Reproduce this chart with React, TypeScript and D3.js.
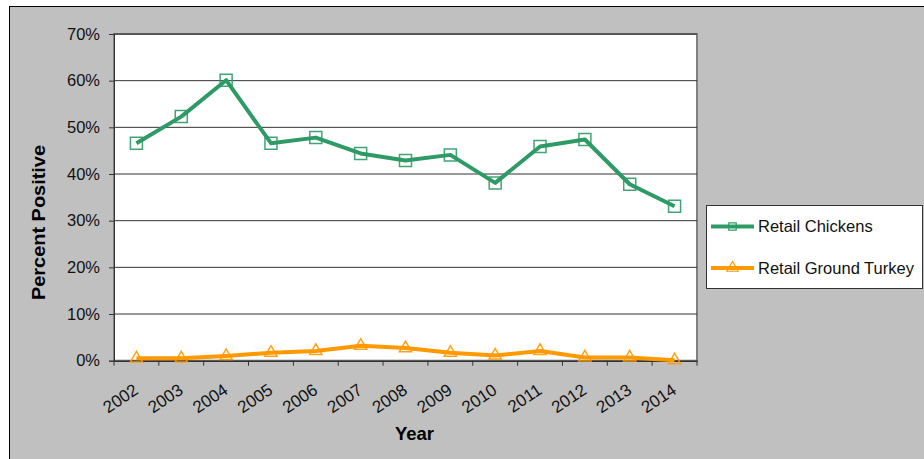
import { useEffect, useRef } from "react";
import * as d3 from "d3";

const years = ["2002", "2003", "2004", "2005", "2006", "2007", "2008", "2009", "2010", "2011", "2012", "2013", "2014"];
const chickens = [46.6, 52.3, 60.1, 46.6, 47.8, 44.4, 42.9, 44.1, 38.1, 45.9, 47.4, 37.8, 33.1];
const turkey = [0.5, 0.5, 1.0, 1.7, 2.1, 3.2, 2.7, 1.7, 1.1, 2.1, 0.7, 0.7, 0.1];
const yTicks = [0, 10, 20, 30, 40, 50, 60, 70];

const green = "#2e9a66";
const orange = "#ff9900";
const font = "'Liberation Sans', Arial, sans-serif";

export default function App() {
  const width = 924;
  const height = 459;
  const marginLeft = 114;
  const marginRight = 697;
  const marginTop = 34;
  const marginBottom = 360.7;

  const chart = useRef(null);

  const x = d3.scaleBand().domain(years).range([marginLeft, marginRight]);
  const y = d3.scaleLinear().domain([0, 70]).range([marginBottom, marginTop]);

  useEffect(() => {
    const svg = d3.select(chart.current);
    svg.selectAll("*").remove();

    // outer chart area
    svg.append("rect")
      .attr("x", 9.5).attr("y", 6.5)
      .attr("width", 940).attr("height", 480)
      .attr("fill", "#c0c0c0").attr("stroke", "#000");

    // plot area
    svg.append("rect")
      .attr("x", marginLeft).attr("y", marginTop)
      .attr("width", marginRight - marginLeft).attr("height", marginBottom - marginTop)
      .attr("fill", "#fff").attr("stroke", "#808080").attr("stroke-width", 2);

    // gridlines
    svg.append("g")
      .selectAll("line")
      .data(yTicks.filter(d => d > 0))
      .join("line")
      .attr("x1", marginLeft).attr("x2", marginRight)
      .attr("y1", d => y(d)).attr("y2", d => y(d))
      .attr("stroke", "#333").attr("stroke-width", 1);

    // y axis
    const gy = svg.append("g").attr("transform", `translate(${marginLeft},0)`)
      .call(d3.axisLeft(y).tickValues(yTicks).tickFormat(d => `${d}%`).tickSize(5).tickPadding(9));
    gy.select(".domain").attr("stroke", "#333");
    gy.selectAll(".tick line").attr("stroke", "#333");
    gy.selectAll("text").attr("font-family", font).attr("font-size", 16.5).attr("fill", "#111");

    // x axis
    const gx = svg.append("g").attr("transform", `translate(0,${marginBottom})`)
      .call(d3.axisBottom(x).tickSize(0).tickSizeOuter(0));
    gx.select(".domain").attr("stroke", "#333").attr("stroke-width", 1.5);
    gx.selectAll(".tick text")
      .attr("font-family", font).attr("font-size", 17).attr("fill", "#111")
      .attr("text-anchor", "end")
      .attr("transform", "translate(3,32) rotate(-34)")
      .attr("dy", "0").attr("y", 0);
    gx.append("g")
      .selectAll("line")
      .data(d3.range(years.length + 1))
      .join("line")
      .attr("x1", i => marginLeft + i * x.step()).attr("x2", i => marginLeft + i * x.step())
      .attr("y1", 0).attr("y2", 5)
      .attr("stroke", "#333");

    const cx = (d: string) => (x(d) as number) + x.bandwidth() / 2;

    const series = [
      { values: chickens, color: green, marker: "square" },
      { values: turkey, color: orange, marker: "triangle" },
    ];

    series.forEach(s => {
      const line = d3.line<number>().x((_, i) => cx(years[i])).y(d => y(d));
      svg.append("path")
        .attr("d", line(s.values))
        .attr("fill", "none").attr("stroke", s.color).attr("stroke-width", 4)
        .attr("stroke-linejoin", "round");
      const sym = s.marker === "square" ? d3.symbolSquare : d3.symbolTriangle;
      svg.append("g")
        .selectAll("path")
        .data(s.values)
        .join("path")
        .attr("transform", (d, i) => `translate(${cx(years[i])},${y(d)})`)
        .attr("d", d3.symbol(sym, s.marker === "square" ? 144 : 65)())
        .attr("fill", "none").attr("stroke", s.color).attr("stroke-width", 1.5)
        .attr("opacity", 0.9);
    });

    // axis titles
    svg.append("text")
      .attr("transform", `translate(45,222.5) rotate(-90)`)
      .attr("text-anchor", "middle")
      .attr("font-family", font).attr("font-size", 18.5).attr("font-weight", "bold")
      .attr("textLength", 155).attr("lengthAdjust", "spacingAndGlyphs")
      .text("Percent Positive");
    svg.append("text")
      .attr("x", 414.5).attr("y", 440)
      .attr("text-anchor", "middle")
      .attr("font-family", font).attr("font-size", 18.5).attr("font-weight", "bold")
      .text("Year");

    // legend
    const legend = svg.append("g");
    legend.append("rect")
      .attr("x", 706.5).attr("y", 205.5).attr("width", 216).attr("height", 83)
      .attr("fill", "#fff").attr("stroke", "#333");
    const entries = [
      { name: "Retail Chickens", color: green, marker: d3.symbolSquare, y: 226.5 },
      { name: "Retail Ground Turkey", color: orange, marker: d3.symbolTriangle, y: 268 },
    ];
    entries.forEach(e => {
      legend.append("line")
        .attr("x1", 711).attr("x2", 754).attr("y1", e.y).attr("y2", e.y)
        .attr("stroke", e.color).attr("stroke-width", 4);
      legend.append("path")
        .attr("transform", `translate(732.5,${e.y})`)
        .attr("d", d3.symbol(e.marker, 55)())
        .attr("fill", "none").attr("stroke", e.color).attr("stroke-width", 1.2);
      legend.append("text")
        .attr("x", 758).attr("y", e.y).attr("dy", "0.35em")
        .attr("font-family", font).attr("font-size", 16.5).attr("fill", "#111")
        .text(e.name);
    });
  }, [chart]);

  return (
    <svg ref={chart} width={width} height={height}
      style={{ position: "absolute", left: 0, top: 0, display: "block" }} />
  );
}
